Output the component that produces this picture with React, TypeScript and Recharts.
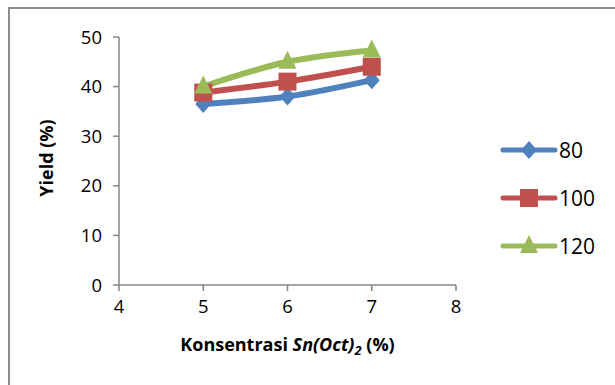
import React from "react";
import { LineChart, Line, XAxis, YAxis } from "recharts";

const konsentrasi = [5, 6, 7];
const yield80 = [36.5, 38, 41.3];
const yield100 = [38.8, 41, 44];
const yield120 = [40, 45, 47.3];
const xTicks = [4, 5, 6, 7, 8];
const yTicks = [0, 10, 20, 30, 40, 50];

const series = [
  { key: "s80", name: "80", color: "#4F81BD", shape: "diamond", values: yield80 },
  { key: "s100", name: "100", color: "#C0504D", shape: "square", values: yield100 },
  { key: "s120", name: "120", color: "#9BBB59", shape: "triangle", values: yield120 },
];

const data = konsentrasi.map((x, i) => {
  const row: any = { x };
  series.forEach((s) => (row[s.key] = s.values[i]));
  return row;
});

const FONT = "'Open Sans', 'Liberation Sans', sans-serif";

function Marker({ cx, cy, shape, color }: any) {
  if (shape === "diamond")
    return <polygon points={`${cx},${cy - 9} ${cx + 8},${cy} ${cx},${cy + 9} ${cx - 8},${cy}`} fill={color} />;
  if (shape === "square")
    return <rect x={cx - 9} y={cy - 9} width={18} height={18} fill={color} />;
  return <polygon points={`${cx},${cy - 11} ${cx + 9},${cy + 7} ${cx - 9},${cy + 7}`} fill={color} />;
}

const XTick = (props: any) => {
  const { x, y, payload } = props;
  return (
    <text x={x} y={y} dy={14} textAnchor="middle" fontFamily={FONT} fontSize={18.5} fill="#000">
      {payload.value}
    </text>
  );
};

const YTick = (props: any) => {
  const { x, y, payload } = props;
  return (
    <text x={x} y={y} dy={6.5} textAnchor="end" fontFamily={FONT} fontSize={18.5} fill="#000">
      {payload.value}
    </text>
  );
};

const XLabel = (props: any) => {
  const vb = props.viewBox || {};
  const cx = vb.x + vb.width / 2;
  return (
    <text x={cx} y={351} textAnchor="middle" fontFamily={FONT} fontSize={18} fontWeight="bold" fill="#000">
      <tspan>Konsentrasi </tspan>
      <tspan fontStyle="italic">Sn(Oct)</tspan>
      <tspan fontStyle="italic" fontSize={13} dy={4}>2</tspan>
      <tspan dy={-4}> (%)</tspan>
    </text>
  );
};

const YLabel = () => (
  <text x={53} y={158} transform="rotate(-90 53 158)" textAnchor="middle" fontFamily={FONT} fontSize={18} fontWeight="bold" fill="#000">
    Yield (%)
  </text>
);

export default function App() {
  return (
    <div style={{ position: "absolute", left: 0, top: 0, width: 615, height: 385, background: "#fff", overflow: "hidden" }}>
      <div style={{ position: "absolute", left: 8, top: 7, width: 640, height: 420, borderLeft: "2px solid #8c8c8c", borderTop: "2px solid #8c8c8c", boxSizing: "border-box" }} />
      <div style={{ position: "absolute", left: 0, top: 0 }}>
        <LineChart width={615} height={385} data={data} margin={{ top: 37, right: 159, left: 0, bottom: 0 }}>
          <XAxis
            dataKey="x"
            type="number"
            domain={[4, 8]}
            ticks={xTicks}
            height={100}
            stroke="#868686"
            strokeWidth={1.5}
            tickSize={6}
            tickMargin={8}
            tick={<XTick />}
            label={<XLabel />}
          />
          <YAxis
            type="number"
            domain={[0, 50]}
            ticks={yTicks}
            width={119}
            stroke="#868686"
            strokeWidth={1.5}
            tickSize={6}
            tickMargin={11}
            tick={<YTick />}
            label={<YLabel />}
          />
          {series.map((s) => (
            <Line
              key={s.key}
              dataKey={s.key}
              name={s.name}
              type="monotone"
              stroke={s.color}
              strokeWidth={6}
              isAnimationActive={false}
              dot={(p: any) => <Marker key={`${s.key}-${p.index}`} cx={p.cx} cy={p.cy} shape={s.shape} color={s.color} />}
              activeDot={false}
            />
          ))}
        </LineChart>
      </div>
      <svg style={{ position: "absolute", left: 0, top: 0 }} width={615} height={385}>
        {series.map((s, i) => {
          const y = 150 + i * 48;
          return (
            <g key={s.key}>
              <line x1={503} x2={555} y1={y} y2={y} stroke={s.color} strokeWidth={5} strokeLinecap="round" />
              <Marker cx={529} cy={y} shape={s.shape} color={s.color} />
              <text x={559} y={y} dy="0.36em" fontFamily={FONT} fontSize={21} fill="#000">{s.name}</text>
            </g>
          );
        })}
      </svg>
    </div>
  );
}
